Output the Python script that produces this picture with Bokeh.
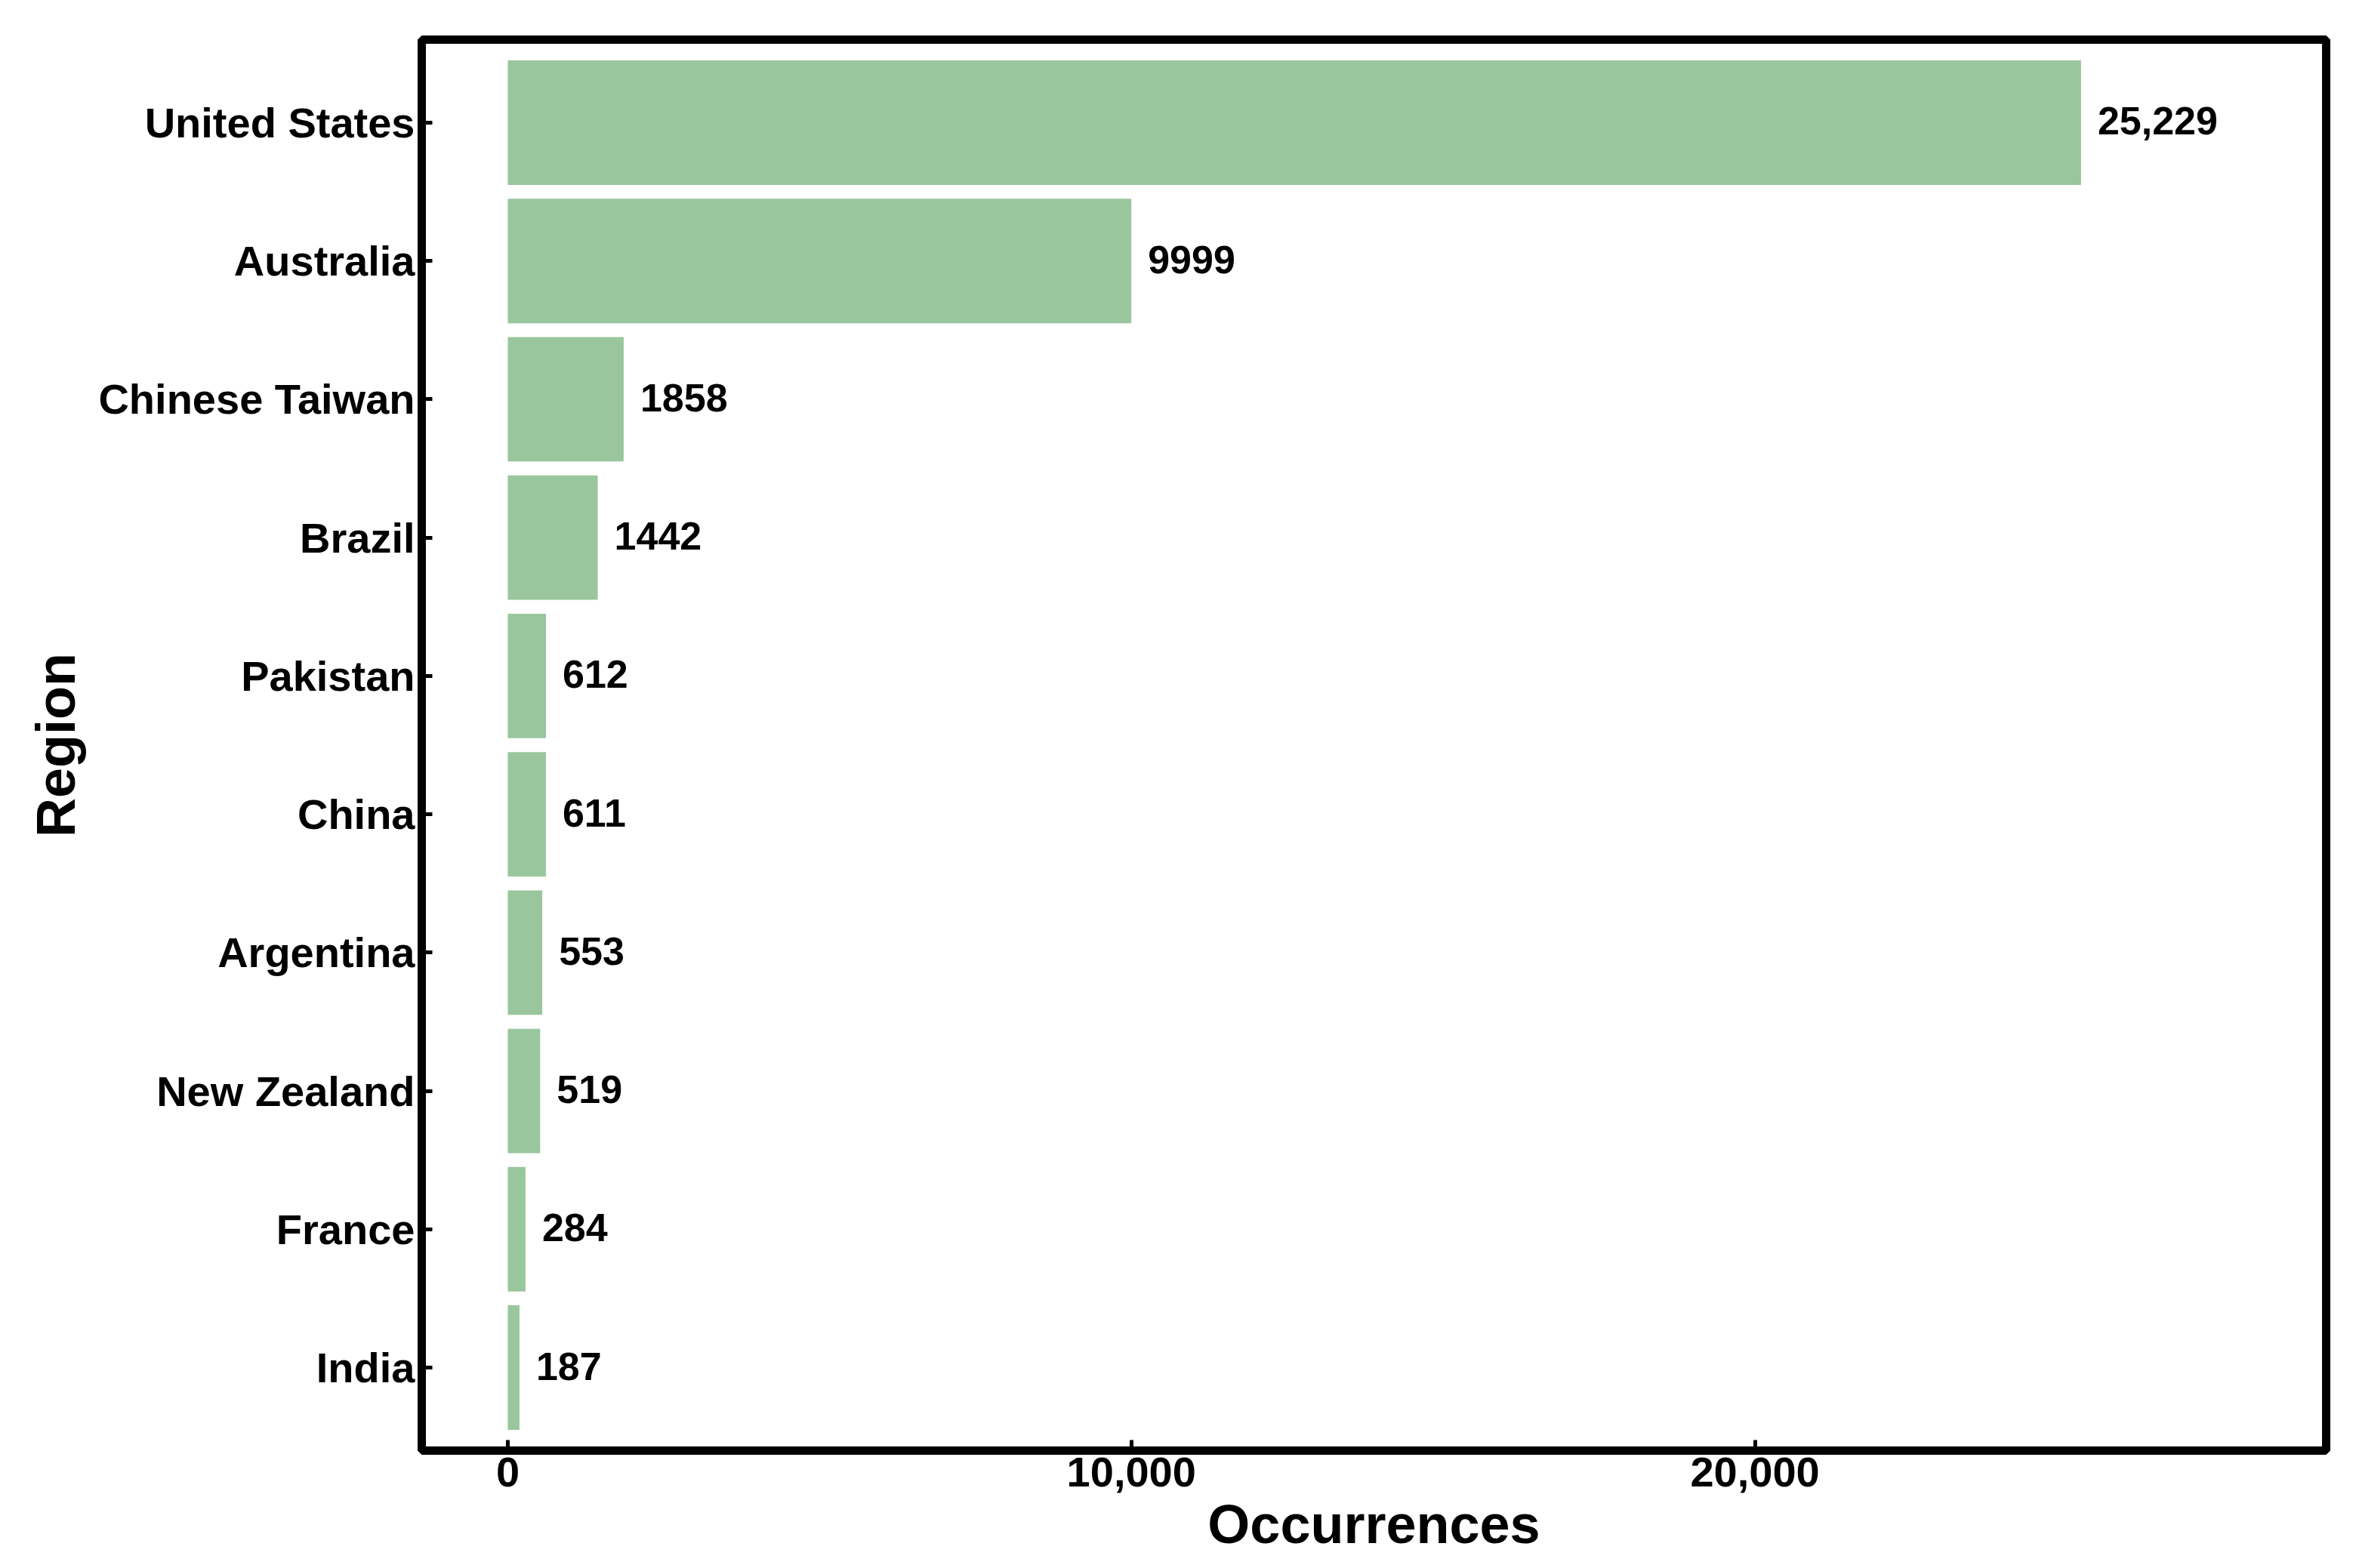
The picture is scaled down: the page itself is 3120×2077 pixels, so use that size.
from bokeh.plotting import figure
from bokeh.models import Range1d, FactorRange, ColumnDataSource, FixedTicker, NumeralTickFormatter
from bokeh.core.properties import value
from bokeh.embed import file_html
from bokeh.resources import INLINE

regions = ["United States", "Australia", "Chinese Taiwan", "Brazil", "Pakistan",
           "China", "Argentina", "New Zealand", "France", "India"]
occurrences = [25229, 9999, 1858, 1442, 612, 611, 553, 519, 284, 187]
x_ticks = [0, 10000, 20000]

labels = [f"{v:,}" if v >= 10000 else str(v) for v in occurrences]
src = ColumnDataSource(dict(region=regions, occ=occurrences, lab=labels))

FONT = "Liberation Sans"
p = figure(
    y_range=FactorRange(factors=regions[::-1], range_padding=0.1, range_padding_units="absolute"),
    x_range=Range1d(-1380, 29160),
    frame_width=2522, frame_height=1869,
    min_border_left=558, min_border_top=52, min_border_right=32, min_border_bottom=140,
    output_backend="svg", toolbar_location=None,
)
p.hbar(y="region", left=0, right="occ", height=0.9, source=src,
       fill_color="#99c69c", line_color=None)
p.text(x="occ", y="region", text="lab", source=src, x_offset=22, y_offset=-2,
       text_font=value(FONT), text_font_style="bold", text_font_size="52px",
       text_baseline="middle", text_align="left", text_color="black")

p.outline_line_color = "black"
p.outline_line_width = 11
p.xgrid.visible = False
p.ygrid.visible = False
p.background_fill_color = "white"
p.border_fill_color = "white"

for ax in (p.xaxis[0], p.yaxis[0]):
    ax.axis_line_color = None
    ax.major_tick_in = 14
    ax.major_tick_out = 0
    ax.major_tick_line_width = 5
    ax.major_tick_line_color = "black"
    ax.minor_tick_line_color = None
    ax.major_label_text_font = FONT
    ax.major_label_text_font_style = "bold"
    ax.major_label_text_font_size = "56px"
    ax.major_label_text_color = "black"
    ax.axis_label_text_font = FONT
    ax.axis_label_text_font_style = "bold"
    ax.axis_label_text_font_size = "72px"
    ax.axis_label_text_color = "black"

p.xaxis.ticker = FixedTicker(ticks=x_ticks)
p.xaxis.formatter = NumeralTickFormatter(format="0,0")
p.xaxis.axis_label = "Occurrences"
p.xaxis.major_label_standoff = 9
p.xaxis.axis_label_standoff = 7
p.yaxis.axis_label = "Region"
p.yaxis.major_label_standoff = 9
p.yaxis.axis_label_standoff = 13

open("out.html", "w").write(file_html(p, INLINE))
